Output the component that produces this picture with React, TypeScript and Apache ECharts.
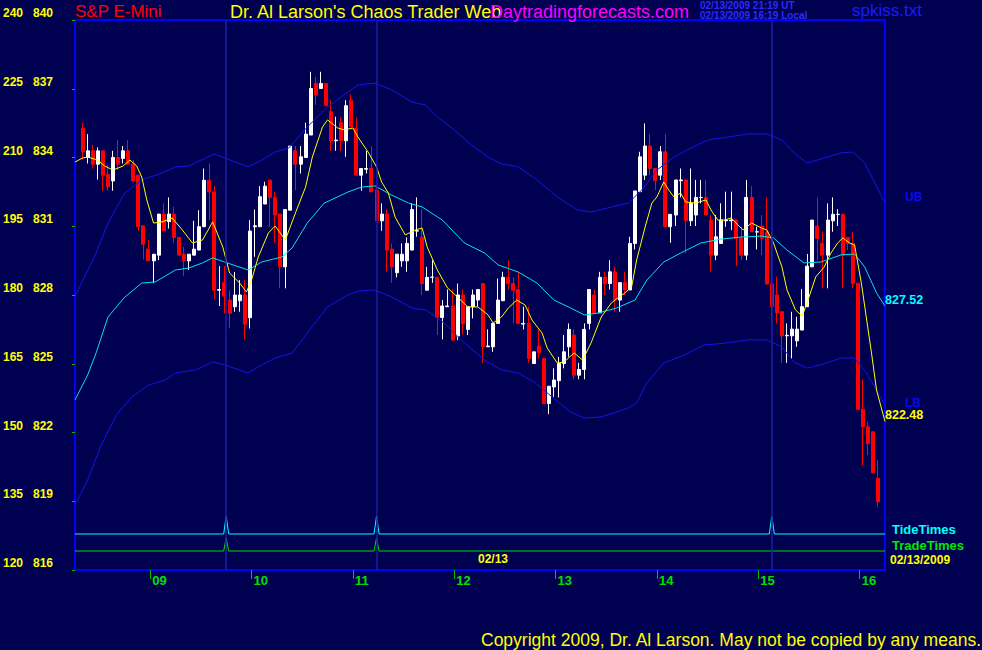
import React, { useEffect, useRef } from 'react';
import * as echarts from 'echarts';

// ---------- data ----------
const START_MIN = 500; // first 3-minute bar at 08:20 (minutes after midnight)
const BAR_MIN = 3;
const X_MIN = 495.5;
const X_MAX = 975;

// [open, close, low, high]
const candles: [number, number, number, number][] = [
  [835.27, 834.25, 833.89, 835.52], [834.0, 834.29, 833.74, 835.02], [834.29, 833.71, 833.52, 834.54], [833.71, 834.29, 833.04, 834.44],
  [834.29, 833.23, 832.55, 834.29], [833.27, 832.72, 832.55, 833.67], [832.98, 834.0, 832.55, 834.29], [834.0, 833.71, 833.45, 834.76],
  [833.96, 834.29, 833.74, 834.5], [834.29, 833.71, 833.67, 834.76], [833.71, 832.98, 832.98, 833.89], [833.23, 830.98, 830.8, 833.23],
  [831.02, 830.22, 829.55, 831.02], [830.0, 829.49, 829.49, 830.4], [829.49, 829.78, 828.53, 829.78], [829.74, 831.53, 829.52, 831.53],
  [831.53, 830.8, 830.8, 832.0], [831.2, 831.53, 830.9, 832.26], [831.53, 830.51, 830.28, 831.85], [830.51, 829.74, 829.74, 830.51],
  [829.78, 829.49, 828.82, 830.1], [829.49, 829.78, 829.09, 829.78], [829.74, 830.0, 829.74, 831.24], [829.96, 830.98, 829.96, 831.7],
  [830.98, 833.01, 830.98, 833.52], [833.01, 832.5, 831.27, 833.74], [832.5, 828.21, 827.81, 832.75], [828.21, 828.24, 827.52, 829.26],
  [828.53, 827.95, 827.2, 829.26], [827.78, 827.2, 826.54, 828.21], [827.49, 828.0, 827.27, 829.01], [827.75, 828.0, 827.27, 828.65],
  [828.0, 826.73, 826.06, 828.65], [827.01, 830.79, 826.54, 831.27], [830.98, 831.02, 829.67, 831.73], [830.98, 832.29, 830.98, 832.75],
  [831.97, 832.75, 831.97, 832.94], [833.01, 832.26, 830.98, 833.01], [832.26, 831.49, 830.28, 832.5], [831.53, 829.23, 828.29, 831.53],
  [829.23, 831.73, 828.29, 831.73], [831.7, 834.5, 831.7, 834.5], [834.29, 833.71, 832.58, 834.5], [833.71, 834.03, 833.3, 834.5],
  [834.0, 835.02, 834.0, 835.52], [834.98, 837.01, 834.98, 837.74], [837.23, 836.72, 836.29, 837.52], [837.01, 837.23, 837.01, 837.74],
  [837.23, 836.26, 836.26, 837.23], [836.0, 834.73, 834.29, 836.5], [834.73, 834.76, 834.29, 835.78], [835.52, 834.73, 834.29, 835.75],
  [834.73, 836.26, 834.03, 836.5], [836.5, 835.34, 835.34, 836.75], [835.27, 833.23, 833.23, 835.75], [833.23, 833.52, 832.55, 833.52],
  [833.49, 833.52, 833.3, 834.29], [833.52, 832.5, 832.5, 834.5], [832.58, 831.24, 831.24, 832.75], [831.24, 831.53, 830.8, 832.0],
  [831.53, 829.96, 829.01, 831.73], [830.0, 829.23, 828.53, 830.25], [828.97, 829.78, 828.77, 829.78], [829.49, 829.78, 829.23, 830.25],
  [829.49, 830.25, 829.01, 830.51], [829.96, 831.73, 829.96, 832.0], [830.79, 830.8, 830.54, 832.26], [830.51, 828.5, 828.0, 831.73],
  [828.21, 828.77, 828.21, 829.23], [828.77, 828.78, 828.53, 829.52], [828.77, 827.02, 826.25, 828.77], [827.02, 827.52, 826.06, 827.78],
  [827.49, 827.52, 827.49, 828.24], [827.52, 826.03, 826.03, 828.24], [826.21, 828.0, 826.03, 828.5], [828.0, 826.76, 826.28, 828.24],
  [826.5, 827.49, 826.25, 827.49], [827.49, 828.0, 826.98, 828.24], [827.78, 828.24, 827.49, 828.24], [828.5, 825.74, 825.04, 828.5],
  [825.74, 825.77, 825.74, 826.5], [825.74, 826.76, 825.52, 826.76], [826.76, 827.78, 826.76, 828.72], [827.75, 828.77, 827.75, 829.01],
  [828.77, 828.5, 828.24, 829.52], [828.5, 828.21, 826.76, 828.77], [828.24, 826.76, 826.76, 829.01], [826.73, 826.76, 826.5, 827.49],
  [826.76, 825.23, 825.04, 827.49], [825.01, 825.52, 825.01, 825.52], [825.77, 825.48, 825.23, 826.5], [825.23, 823.27, 823.27, 825.23],
  [823.27, 824.02, 822.8, 824.02], [823.99, 824.29, 823.56, 824.8], [824.26, 825.01, 823.53, 825.3], [825.01, 825.52, 824.8, 826.25],
  [825.74, 826.5, 825.3, 826.76], [826.25, 824.5, 824.32, 826.5], [824.5, 824.75, 824.32, 825.04], [824.75, 826.5, 824.32, 826.76],
  [826.76, 828.24, 826.5, 828.24], [828.0, 827.2, 827.2, 828.24], [827.22, 828.77, 827.22, 829.01], [828.77, 828.5, 828.0, 829.01],
  [828.5, 829.01, 828.24, 829.52], [829.01, 827.78, 827.27, 829.23], [827.78, 828.54, 827.27, 828.54], [828.54, 828.22, 828.0, 829.02],
  [828.22, 830.25, 828.22, 830.54], [830.25, 832.54, 829.99, 832.54], [832.51, 834.03, 832.51, 834.25], [833.23, 834.5, 833.02, 835.49],
  [834.5, 833.52, 833.23, 835.02], [833.52, 832.99, 832.58, 833.52], [833.23, 834.25, 833.02, 834.5], [834.25, 830.98, 830.98, 835.02],
  [830.98, 831.52, 830.28, 831.52], [831.49, 833.02, 831.01, 833.02], [832.99, 833.02, 832.26, 833.52], [833.02, 831.24, 829.82, 833.02],
  [831.24, 832.0, 831.01, 833.52], [831.49, 832.26, 831.01, 833.02], [832.25, 832.26, 832.0, 833.02], [832.26, 831.49, 831.49, 833.02],
  [831.27, 829.74, 829.02, 831.49], [829.74, 830.54, 829.52, 831.49], [830.25, 831.27, 830.25, 832.0], [831.24, 831.27, 830.98, 832.51],
  [831.24, 831.27, 830.83, 832.51], [831.27, 830.47, 829.26, 831.27], [830.47, 829.74, 829.52, 830.98], [829.74, 832.26, 829.52, 833.02],
  [832.26, 830.76, 830.76, 832.75], [830.75, 830.76, 829.99, 830.98], [831.01, 830.47, 829.74, 831.49], [830.76, 828.48, 828.48, 832.26],
  [828.48, 827.5, 826.76, 830.76], [828.0, 827.23, 826.76, 828.8], [827.27, 826.22, 825.04, 827.27], [826.22, 826.24, 825.04, 826.76],
  [826.22, 826.51, 825.23, 827.27], [826.0, 826.51, 825.74, 827.05], [826.47, 827.49, 826.47, 828.26], [827.49, 829.26, 827.49, 829.79],
  [829.23, 831.27, 829.23, 831.27], [831.01, 830.47, 829.52, 832.26], [830.25, 829.74, 828.29, 830.76], [829.74, 831.27, 828.29, 832.0],
  [831.24, 831.52, 830.76, 832.26], [831.51, 831.52, 831.01, 831.74], [831.52, 829.74, 828.29, 831.52], [830.51, 830.25, 829.96, 830.51],
  [830.25, 828.51, 828.29, 830.76], [828.51, 823.01, 823.01, 828.51], [823.01, 822.25, 820.58, 824.32], [822.25, 821.52, 821.02, 822.47],
  [822.03, 820.24, 820.24, 822.03], [820.0, 818.98, 818.76, 820.8],
];

// [minute, price]
const yellowMA: [number, number][] = [
  [495.5, 833.8], [500, 833.98], [503, 834.02], [509, 833.89], [513, 833.63], [518, 833.45], [524, 833.63], [528, 833.89],
  [532, 833.63], [535, 833.15], [538, 832.15], [542, 831.14], [547, 831.19], [553, 831.36], [559, 830.84], [565, 830.27],
  [571, 830.4], [577, 831.19], [583, 830.09], [587, 828.96], [593, 828.52], [597, 828.13], [600, 828.65], [604, 829.66],
  [610, 830.71], [614, 831.01], [620, 830.4], [626, 831.58], [632, 832.71], [636, 834.02], [642, 835.33], [645, 835.64],
  [651, 835.29], [655, 835.2], [660, 835.29], [663, 834.89], [669, 834.24], [674, 833.59], [677, 832.93], [681, 832.45],
  [685, 831.4], [691, 830.62], [697, 830.84], [701, 830.92], [704, 830.09], [710, 829.09], [716, 828.31], [722, 827.91],
  [728, 827.48], [734, 827.48], [740, 827.13], [743, 826.78], [748, 827.04], [752, 827.43], [757, 827.78], [762, 827.56],
  [766, 826.91], [772, 826.34], [775, 825.69], [781, 825.03], [785, 825.08], [791, 825.47], [796, 825.16], [801, 825.91],
  [807, 827.04], [813, 827.65], [816, 827.83], [821, 828.09], [825, 828.35], [828, 829.53], [833, 830.97], [837, 832.01],
  [840, 832.28], [844, 832.93], [847, 832.58], [850, 832.28], [854, 832.45], [857, 832.06], [863, 832.01], [869, 832.15],
  [872, 831.71], [876, 831.27], [880, 831.27], [884, 831.36], [888, 831.05], [891, 830.84], [896, 831.14], [902, 830.92],
  [905, 830.84], [909, 830.27], [914, 829.22], [917, 828.22], [922, 827.35], [926, 827.08], [930, 827.91], [934, 828.79],
  [939, 829.22], [943, 829.83], [947, 830.27], [950, 830.49], [954, 830.27], [957, 830.18], [961, 828.52], [967, 825.47],
  [970, 823.85], [975, 822.48],
];

const midBand: [number, number][] = [
  [495.5, 823.42], [503, 824.51], [508, 825.47], [515, 827.04], [525, 827.91], [535, 828.52], [543, 828.57], [555, 829.09],
  [563, 829.18], [571, 829.4], [577, 829.62], [584, 829.44], [598, 829.09], [606, 829.44], [618, 829.66], [624, 830.05],
  [633, 831.14], [643, 832.01], [657, 832.49], [665, 832.71], [673, 832.76], [683, 832.36], [693, 832.01], [701, 831.84],
  [713, 831.27], [726, 830.27], [738, 829.83], [746, 829.31], [758, 829.0], [769, 828.52], [779, 827.78], [789, 827.43],
  [797, 827.13], [805, 827.21], [816, 827.43], [827, 827.78], [834, 828.65], [844, 829.44], [854, 829.83], [866, 830.27],
  [878, 830.44], [890, 830.53], [902, 830.57], [909, 830.49], [917, 829.96], [927, 829.4], [937, 829.44], [949, 829.75],
  [957, 829.79], [963, 829.22], [970, 828.09], [975, 827.52],
];

const upperBand: [number, number][] = [
  [495.5, 827.93], [508, 829.83], [515, 831.14], [525, 832.45], [535, 833.02], [547, 833.32], [555, 833.59], [563, 833.63],
  [574, 834.02], [578, 834.15], [584, 833.98], [598, 833.59], [604, 833.8], [614, 834.24], [622, 834.41], [633, 835.33],
  [645, 836.2], [657, 836.86], [663, 837.16], [673, 837.25], [683, 836.95], [695, 836.42], [703, 836.29], [710, 835.77],
  [720, 835.2], [730, 834.55], [740, 834.02], [748, 833.72], [758, 833.59], [769, 833.02], [781, 832.28], [793, 831.71],
  [801, 831.62], [811, 831.8], [823, 832.01], [831, 832.58], [840, 833.45], [850, 834.02], [858, 834.33], [870, 834.76],
  [882, 834.89], [894, 835.03], [905, 835.03], [914, 834.76], [921, 834.2], [929, 833.76], [939, 833.98], [949, 834.2],
  [956, 834.24], [963, 833.76], [969, 832.89], [975, 832.01],
];

const lowerBand: [number, number][] = [
  [495.5, 818.84], [503, 819.93], [511, 821.45], [520, 822.76], [529, 823.55], [539, 824.07], [549, 824.29], [555, 824.6],
  [567, 824.73], [577, 825.08], [584, 824.95], [598, 824.6], [606, 824.95], [614, 825.25], [624, 825.47], [633, 826.34],
  [645, 827.48], [657, 828.0], [663, 828.17], [673, 828.22], [683, 827.91], [695, 827.43], [703, 827.35], [714, 826.78],
  [726, 825.91], [738, 825.16], [748, 824.73], [758, 824.6], [768, 824.16], [778, 823.55], [789, 822.89], [797, 822.63],
  [807, 822.68], [816, 822.89], [823, 823.07], [828, 823.29], [834, 824.16], [844, 825.03], [856, 825.38], [868, 825.82],
  [882, 825.91], [894, 826.04], [905, 826.04], [914, 825.73], [921, 825.08], [929, 824.81], [937, 824.95], [949, 825.25],
  [957, 825.25], [964, 824.6], [975, 823.2],
];

const tideTimes = [585, 674, 908];
const tradeTimes = [585, 674];
const hourTicks = [540, 600, 660, 720, 780, 840, 900, 960];
const priceTicks = [816, 819, 822, 825, 828, 831, 834, 837, 840];
const altScale = [120, 135, 150, 165, 180, 195, 210, 225, 240];

// ---------- style ----------
const BG = '#000050';
const FONT = '"Liberation Sans", Arial, sans-serif';
const TIDE_BASE = 6.55;
const TIDE_PEAK = 9.8;
const TRADE_BASE = 3.45;
const TRADE_PEAK = 5.8;

function spikes(times: number[], base: number, peak: number): [number, number][] {
  const pts: [number, number][] = [[X_MIN, base]];
  times.forEach((t) => {
    pts.push([t - 1.5, base], [t, peak], [t + 1.5, base]);
  });
  pts.push([X_MAX, base]);
  return pts;
}

function txt(
  text: string,
  x: number,
  y: number,
  fill: string,
  size: number,
  weight: string = 'normal',
  z = 10,
  lineHeight?: number,
) {
  const style: any = { text, fill, fontSize: size, fontWeight: weight, fontFamily: FONT, align: 'left', verticalAlign: 'middle' };
  if (lineHeight) style.lineHeight = lineHeight;
  return { type: 'text', x, y, z, silent: true, style };
}

export default function App() {
  const ref = useRef<HTMLDivElement>(null);

  useEffect(() => {
    if (!ref.current) return;
    const chart = echarts.init(ref.current, null, { renderer: 'svg' });

    const candleData = candles.map((c, i) => [START_MIN + BAR_MIN * i, c[0], c[1], c[2], c[3]]);
    const lastMid = midBand[midBand.length - 1][1].toFixed(2);
    const lastYellow = yellowMA[yellowMA.length - 1][1].toFixed(2);

    const lineSeries = (name: string, data: [number, number][], color: string) => ({
      name,
      type: 'line',
      data,
      showSymbol: false,
      symbol: 'none',
      z: 4,
      silent: true,
      lineStyle: { color, width: 1 },
    });

    const option: any = {
      animation: false,
      backgroundColor: BG,
      grid: {
        left: 74,
        top: 20,
        width: 811,
        height: 550,
        show: true,
        borderColor: '#0000ff',
        borderWidth: 2,
        backgroundColor: BG,
      },
      xAxis: {
        type: 'value',
        min: X_MIN,
        max: X_MAX,
        axisLine: { show: false },
        splitLine: { show: false },
        axisTick: { show: true, customValues: hourTicks, length: 9, lineStyle: { color: '#00c000', width: 1 } },
        axisLabel: {
          show: true,
          customValues: hourTicks,
          formatter: (v: number) => String(Math.round(v / 60)).padStart(2, '0'),
          color: '#00e000',
          fontFamily: FONT,
          fontWeight: 'bold',
          fontSize: 13,
          align: 'left',
          verticalAlign: 'top',
          margin: 4,
          padding: [0, 0, 0, 2],
        },
      },
      yAxis: [
        {
          type: 'value',
          min: 816,
          max: 840,
          interval: 3,
          axisLine: { show: false },
          splitLine: { show: false },
          axisTick: { show: true, length: 3, lineStyle: { color: '#00c000' } },
          axisLabel: {
            color: '#ffff00',
            fontFamily: FONT,
            fontWeight: 'bold',
            fontSize: 12,
            align: 'left',
            verticalAlign: 'bottom',
            margin: 72,
            padding: [0, 0, 1, 0],
            formatter: (v: number) => {
              const idx = priceTicks.indexOf(Math.round(v));
              return `${altScale[idx]}   ${Math.round(v)}`;
            },
          },
        },
        { type: 'value', min: 0, max: 100, show: false },
      ],
      series: [
        {
          name: 'TideTimes',
          type: 'line',
          yAxisIndex: 1,
          data: spikes(tideTimes, TIDE_BASE, TIDE_PEAK),
          showSymbol: false,
          symbol: 'none',
          z: 1,
          silent: true,
          lineStyle: { color: '#00ffff', width: 1 },
          markLine: {
            silent: true,
            symbol: ['none', 'none'],
            label: { show: false },
            lineStyle: { color: '#1c1ca8', width: 1.5, type: 'solid' },
            data: tideTimes.map((t) => ({ xAxis: t })),
          },
        },
        {
          name: 'TradeTimes',
          type: 'line',
          yAxisIndex: 1,
          data: spikes(tradeTimes, TRADE_BASE, TRADE_PEAK),
          showSymbol: false,
          symbol: 'none',
          z: 1,
          silent: true,
          lineStyle: { color: '#00dd00', width: 1 },
        },
        {
          name: 'ES',
          type: 'candlestick',
          data: candleData,
          barWidth: 3.5,
          z: 3,
          silent: true,
          itemStyle: {
            color: '#ffffff',
            color0: '#ff0000',
            borderColor: '#ffffff',
            borderColor0: '#ff0000',
            borderColorDoji: '#ffffff',
            borderWidth: 1,
          },
        },
        lineSeries('UB', upperBand, '#1414e6'),
        lineSeries('LB', lowerBand, '#1414e6'),
        lineSeries('Mid', midBand, '#00e6e6'),
        lineSeries('MA', yellowMA, '#ffff00'),
      ],
      graphic: [
        txt('S&P E-Mini', 75, 11.5, '#ff0000', 17),
        txt("Dr. Al Larson's Chaos Trader Web", 230, 11.5, '#ffff00', 18, 'normal', 10),
        txt('Daytradingforecasts.com', 490, 11.5, '#ff00ff', 18, 'normal', 11),
        txt('02/13/2009 21:19 UT', 700, 5, '#2a2aff', 10, 'bold', 12, 9),
        txt('02/13/2009 16:19 Local', 700, 15.5, '#2a2aff', 10, 'bold', 12, 9),
        txt('spkiss.txt', 852, 10, '#1a1aff', 17),
        txt('UB', 905, 196.5, '#0a0ae6', 12, 'bold'),
        txt(lastMid, 885, 299.5, '#00ffff', 12.5, 'bold'),
        txt('LB', 905, 402.5, '#0a0ae6', 12, 'bold'),
        txt(lastYellow, 885, 415.3, '#ffff00', 12.5, 'bold'),
        txt('TideTimes', 892, 529, '#00ffff', 13, 'bold'),
        txt('TradeTimes', 892, 545.5, '#00e600', 13, 'bold'),
        txt('02/13/2009', 890, 559.5, '#ffff00', 12, 'bold'),
        txt('02/13', 478, 559, '#ffff00', 12, 'bold'),
        txt('Copyright 2009, Dr. Al Larson. May not be copied by any means.', 481, 640, '#ffff00', 17.5),
      ],
    };

    chart.setOption(option);
    return () => chart.dispose();
  }, []);

  return (
    <div
      ref={ref}
      style={{ position: 'absolute', left: 0, top: 0, width: 982, height: 650, background: BG }}
    />
  );
}
